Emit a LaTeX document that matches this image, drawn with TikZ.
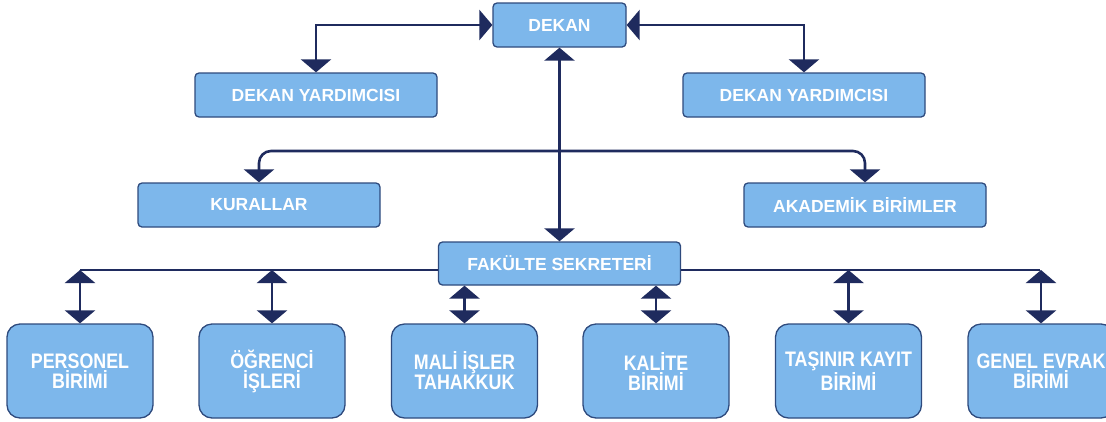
\documentclass[tikz,border=0pt]{standalone}
\usepackage{fontspec}
\setmainfont{Liberation Sans}
\usepackage{xcolor}
\usepackage{graphicx}
\usepackage{tikz}
\usetikzlibrary{positioning}
\usetikzlibrary{arrows.meta}
\definecolor{boxblue}{HTML}{7DB7EB}
\definecolor{boxedge}{HTML}{2E4A7D}
\definecolor{navy}{HTML}{1F2B5E}
% two squeezed lines for the unit boxes
\newcommand{\unitlines}[2]{\scalebox{0.85}[1]{#1}\\\scalebox{0.85}[1]{#2}}
\tikzset {
  % upper boxes (single line)
  office/.style = {draw=boxedge, fill=boxblue, line width=1.3pt, rounded corners=4pt,
    text=white, inner sep=0pt, minimum height=44pt,
    font=\fontsize{17.5}{20}\selectfont\bfseries},
  % lower boxes (units)
  unit/.style = {draw=boxedge, fill=boxblue, line width=1.3pt, rounded corners=13pt,
    text=white, inner sep=0pt, minimum width=146pt, minimum height=94pt, align=center,
    font=\fontsize{21}{20}\selectfont\bfseries},
  % connectors
  link/.style = {navy, line width=2.6pt, >={Triangle[width=30pt,length=13pt]}},
}

\begin{document}
\begin{tikzpicture}[x=1pt, y=-1pt]
      \useasboundingbox (0,0) rectangle (1106,421);

      \node[office, minimum width=133pt] (dekan) at (559.5, 25) {DEKAN};
      \node[office, minimum width=242pt] (yrd1) at (316, 95) {DEKAN YARDIMCISI};
      \node[office, minimum width=242pt] (yrd2) at (804, 95) {DEKAN YARDIMCISI};

      \node[office, minimum width=242pt] (kural) at (259, 205) {KURALLAR};
      \node[office, minimum width=242pt] (akad) at (865, 205) {AKADEMİK BİRİMLER};

      \node[office, minimum width=242pt, minimum height=43pt] (sekr) at (559.5, 263.5) {FAKÜLTE SEKRETERİ};

      \node[unit] (pers) at (80, 371) {\unitlines{PERSONEL}{BİRİMİ}};
      \node[unit] (ogr) at (272, 371) {\unitlines{ÖĞRENCİ}{İŞLERİ}};
      \node[unit] (mali) at (464.5, 371) {\unitlines{MALİ İŞLER}{TAHAKKUK}};
      \node[unit] (kal) at (656, 371) {\unitlines{KALİTE}{BİRİMİ}};
      \node[unit] (tas) at (848.5, 371) {\unitlines{TAŞINIR KAYIT}{BİRİMİ}};
      \node[unit] (evr) at (1041, 371) {\unitlines{GENEL EVRAK}{BİRİMİ}};

      \coordinate (split) at (559.5, 151);
      \coordinate (busL) at (80, 270);
      \coordinate (busR) at (1040, 270);

      % dekan and assistants
      \draw [link, <->] (yrd1.north) |- (dekan.west);
      \draw [link, <->] (yrd2.north) |- (dekan.east);
      \draw [link, <->] (dekan.south) -- (sekr.north);

      \draw [link, ->, rounded corners=12pt] (split) -| (kural.north);
      \draw [link, ->, rounded corners=12pt] (split) -| (akad.north);

      % secretary to units
      \draw [link] (busL) -- (busL -| sekr.west);
      \draw [link] (busR) -- (busR -| sekr.east);
      \draw [link, <->] (pers.north |- busL) -- (pers.north);
      \draw [link, <->] (ogr.north |- busL) -- (ogr.north);
      \draw [link, <->] (mali.north |- sekr.south) -- (mali.north);
      \draw [link, <->] (kal.north |- sekr.south) -- (kal.north);
      \draw [link, <->] (tas.north |- busR) -- (tas.north);
      \draw [link, <->] (evr.north |- busR) -- (evr.north);
\end{tikzpicture}
\end{document}
